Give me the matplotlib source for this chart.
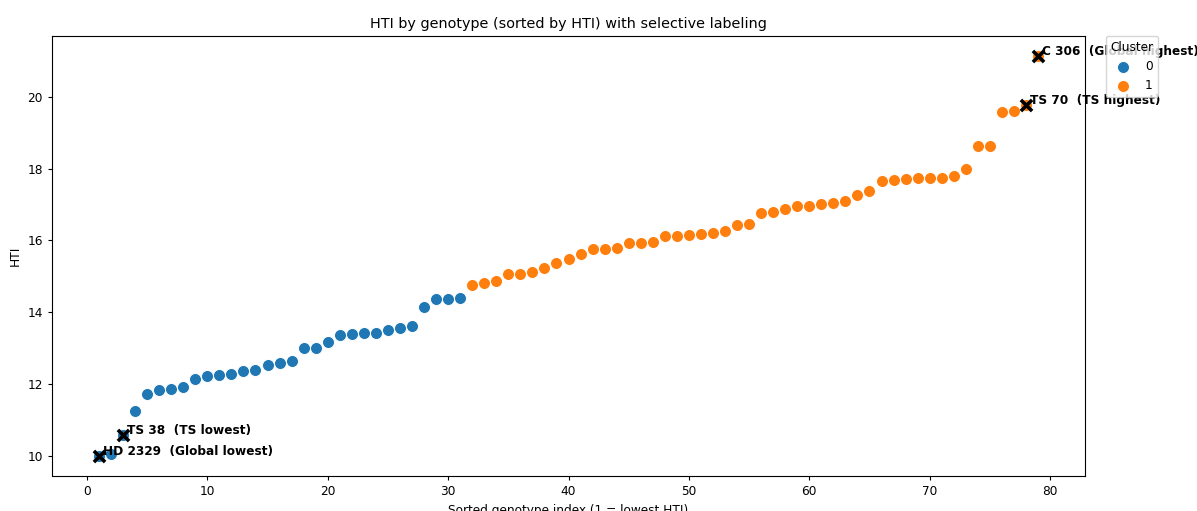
import numpy as np
import matplotlib
matplotlib.use('Agg')
import matplotlib.pyplot as plt

# HTI values sorted ascending, index 1..79
hti = [9.99, 10.05, 10.57, 11.25, 11.72, 11.83, 11.87, 11.92, 12.15, 12.22,
       12.24, 12.28, 12.37, 12.38, 12.54, 12.59, 12.64, 13.01, 13.01, 13.16,
       13.35, 13.38, 13.42, 13.43, 13.51, 13.55, 13.61, 14.15, 14.38, 14.38,
       14.40, 14.77, 14.82, 14.86, 15.05, 15.07, 15.12, 15.22, 15.36, 15.49,
       15.62, 15.75, 15.77, 15.80, 15.93, 15.94, 15.95, 16.11, 16.13, 16.14,
       16.19, 16.20, 16.25, 16.42, 16.46, 16.76, 16.80, 16.88, 16.97, 16.97,
       17.02, 17.03, 17.09, 17.27, 17.37, 17.65, 17.67, 17.71, 17.73, 17.73,
       17.75, 17.79, 18.00, 18.62, 18.63, 19.57, 19.60, 19.78, 21.14]
cluster = [0] * 31 + [1] * 48

# selected labels: sorted index -> text
label_idx = [1, 3, 78, 79]
label_txt = ['HD 2329  (Global lowest)', 'TS 38  (TS lowest)',
             'TS 70  (TS highest)', 'C 306  (Global highest)']

plt.rcParams['font.size'] = 8.7
plt.rcParams['xtick.major.size'] = 3.0
plt.rcParams['ytick.major.size'] = 3.0

idx = np.arange(1, len(hti) + 1)
hti = np.array(hti)
cluster = np.array(cluster)
colors = {0: '#1f77b4', 1: '#ff7f0e'}

fig = plt.figure(figsize=(11.97, 5.11), dpi=100)
ax = fig.add_axes([52 / 1197, 35 / 511, 1033 / 1197, 440 / 511])

for c in [0, 1]:
    m = cluster == c
    ax.scatter(idx[m], hti[m], s=75, color=colors[c], edgecolor='white',
               linewidth=0.7, label=str(c), zorder=2)

for i, t in zip(label_idx, label_txt):
    y = hti[i - 1]
    ax.scatter([i], [y], marker='x', s=65, color='black', linewidths=2.6, zorder=3)
    ax.text(i + 0.3, y + 0.12, t, fontsize=8.7, fontweight='bold',
            ha='left', va='center', clip_on=False)

ax.set_title('HTI by genotype (sorted by HTI) with selective labeling', fontsize=10.4)
ax.set_xlabel('Sorted genotype index (1 = lowest HTI)')
ax.set_ylabel('HTI')
ax.set_xticks(range(0, 81, 10))
ax.legend(title='Cluster', loc='upper left', bbox_to_anchor=(1.02, 1),
          borderaxespad=0)

fig.savefig('out.png', dpi=100)
